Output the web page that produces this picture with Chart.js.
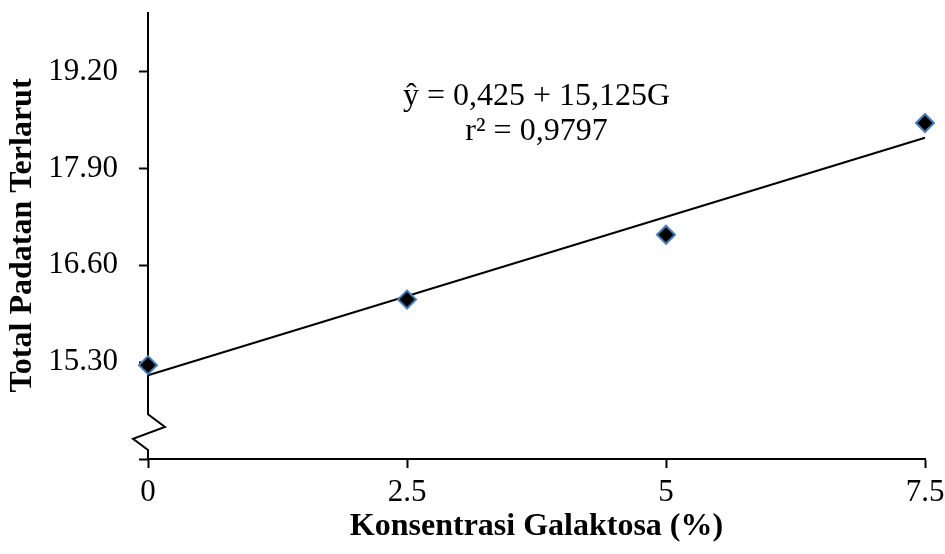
<!DOCTYPE html>
<html><head><meta charset="utf-8">
<script src="https://cdn.jsdelivr.net/npm/chart.js@4/dist/chart.umd.min.js"></script>
<style>html,body{margin:0;padding:0;background:#fff;} #wrap{width:945px;height:554px;position:relative;}</style>
</head><body><div id="wrap"><canvas id="c" width="945" height="554"></canvas></div>
<script>
// ---- data ----
const concentrations = [0, 2.5, 5, 7.5];
const totalSolids = [15.26, 16.14, 17.01, 18.51];
const trendX = [0, 7.5];
const trendY = [15.125, 18.3125];
const yTickValues = [14.0, 15.3, 16.6, 17.9, 19.2];
const xTickValues = [0, 2.5, 5, 7.5];
const equationLines = ['ŷ = 0,425 + 15,125G', 'r² = 0,9797'];
const equationAnchor = [3.75, 18.87];
const breakValues = [14.6, 14.43, 14.27, 14.12];
const xTitle = 'Konsentrasi Galaktosa (%)';
const yTitle = 'Total Padatan Terlarut';

const FAMILY = "'Liberation Serif', 'Times New Roman', serif";

const axisBreak = {
  id: 'axisBreak',
  beforeDatasetsDraw(chart) {
    const {ctx, chartArea} = chart;
    const y = chart.scales.y;
    const x0 = chart.scales.x.getPixelForValue(0);
    const offs = [0, 17, -15, 0];
    ctx.save();
    ctx.strokeStyle = '#000';
    ctx.lineWidth = 2;
    ctx.beginPath();
    ctx.moveTo(x0, chartArea.top);
    breakValues.forEach((v, i) => ctx.lineTo(x0 + offs[i], y.getPixelForValue(v)));
    ctx.lineTo(x0, chartArea.bottom);
    ctx.stroke();
    ctx.restore();
  }
};

const equation = {
  id: 'equation',
  afterDatasetsDraw(chart) {
    const {ctx} = chart;
    const px = chart.scales.x.getPixelForValue(equationAnchor[0]);
    const py = chart.scales.y.getPixelForValue(equationAnchor[1]);
    ctx.save();
    ctx.fillStyle = '#000';
    ctx.font = '32px ' + FAMILY;
    ctx.textAlign = 'center';
    ctx.textBaseline = 'middle';
    equationLines.forEach((t, i) => ctx.fillText(t, px, py + i * 35));
    ctx.restore();
  }
};

new Chart(document.getElementById('c'), {
  type: 'scatter',
  data: {
    datasets: [
      {
        label: 'trend',
        data: trendX.map((x, i) => ({x, y: trendY[i]})),
        showLine: true,
        borderColor: '#000',
        borderWidth: 2,
        pointRadius: 0,
        clip: false,
        order: 2
      },
      {
        label: 'Total Padatan Terlarut',
        data: concentrations.map((x, i) => ({x, y: totalSolids[i]})),
        pointStyle: 'rectRot',
        pointRadius: 9,
        pointHoverRadius: 9,
        backgroundColor: '#000',
        borderColor: '#4a7ebb',
        borderWidth: 2,
        clip: false,
        order: 1
      }
    ]
  },
  options: {
    responsive: false,
    animation: false,
    events: [],
    layout: {padding: {top: 12, right: 20, left: 0, bottom: 0}},
    plugins: {legend: {display: false}, tooltip: {enabled: false}},
    scales: {
      x: {
        type: 'linear', min: 0, max: 7.5,
        afterBuildTicks: s => { s.ticks = xTickValues.map(v => ({value: v})); },
        ticks: {callback: v => String(v), autoSkip: false, maxRotation: 0, padding: 6,
                color: '#000', font: {family: FAMILY, size: 31}},
        grid: {drawOnChartArea: false, drawTicks: true, tickLength: 9, tickWidth: 2, tickColor: '#000'},
        border: {display: true, color: '#000', width: 2},
        title: {display: true, text: xTitle, color: '#000',
                font: {family: FAMILY, size: 32, weight: 'bold'}, padding: {top: 0, bottom: 8}},
        afterFit: s => { s.height = 95; s.paddingLeft = 0; s.paddingRight = 0; }
      },
      y: {
        type: 'linear', min: 14, max: 20,
        afterBuildTicks: s => { s.ticks = yTickValues.map(v => ({value: v})); },
        ticks: {callback: v => Math.abs(v - 14) < 1e-9 ? '' : Number(v).toFixed(2), autoSkip: false,
                padding: 21, color: '#000', font: {family: FAMILY, size: 31}},
        grid: {drawOnChartArea: false, drawTicks: true, tickLength: 9, tickWidth: 2, tickColor: '#000'},
        border: {display: false},
        title: {display: true, text: yTitle, color: '#000',
                font: {family: FAMILY, size: 32, weight: 'bold'}, padding: {top: 4, bottom: 0}},
        afterFit: s => { s.width = 148; s.paddingTop = 0; s.paddingBottom = 0; }
      }
    }
  },
  plugins: [axisBreak, equation]
});
</script>
</body></html>
